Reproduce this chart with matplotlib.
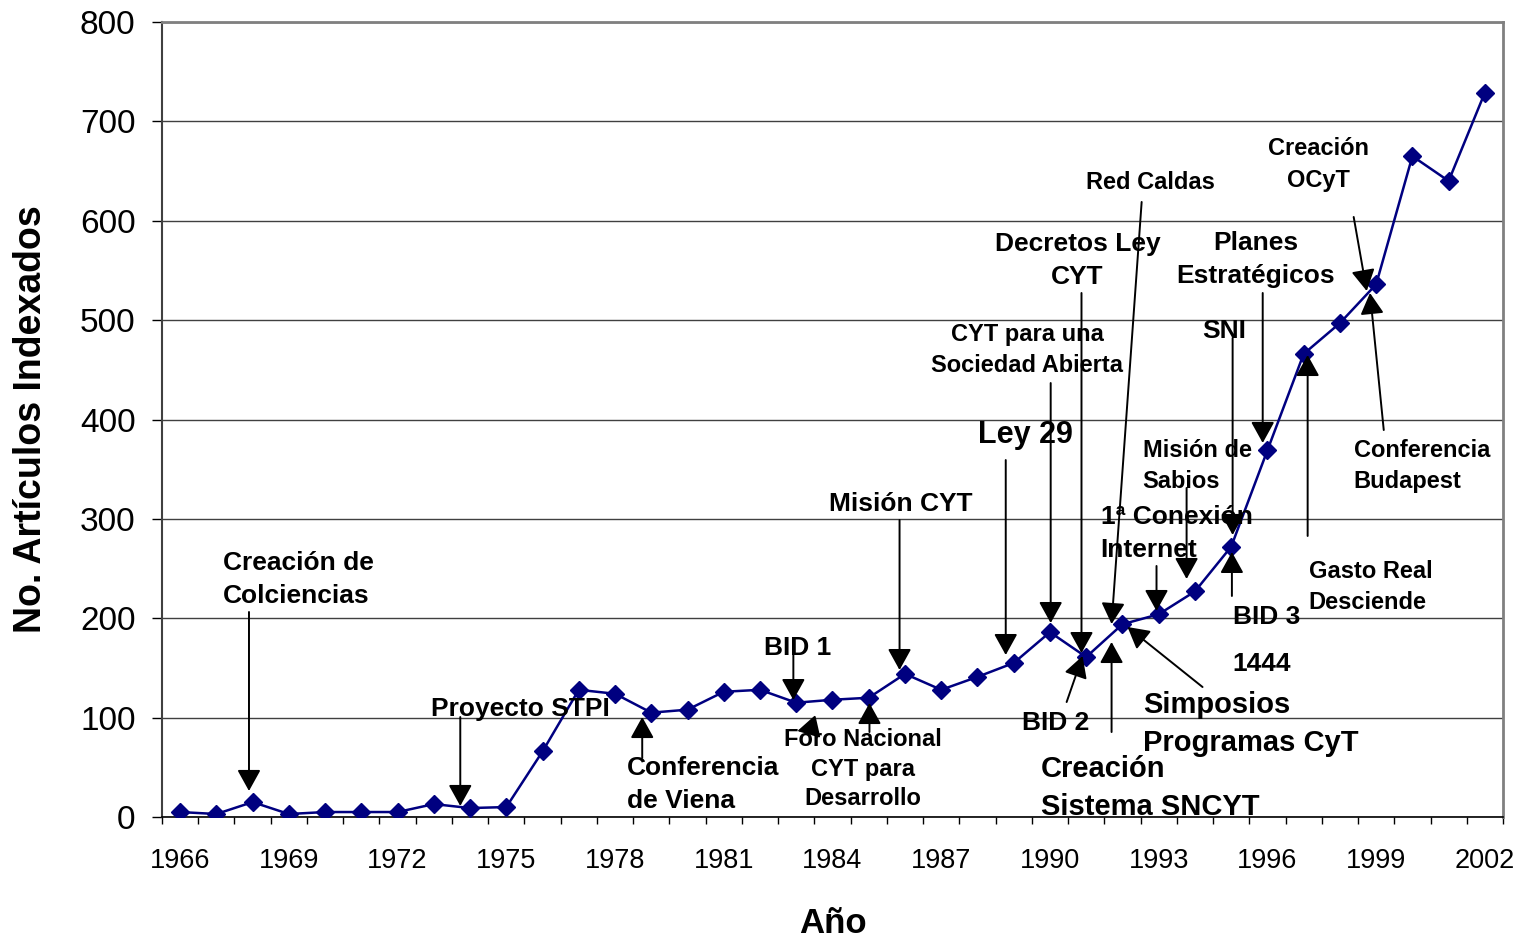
import matplotlib
matplotlib.use("Agg")
import matplotlib.pyplot as plt
from matplotlib.ticker import MultipleLocator

plt.rcParams['font.family'] = ['Liberation Sans', 'DejaVu Sans']

years = list(range(1966, 2003))
articles = [5, 3, 15, 3, 5, 5, 5, 13, 9, 10,
            66, 128, 124, 105, 108, 126, 128, 115, 118, 120,
            144, 128, 141, 155, 186, 161, 194, 204, 227, 272,
            369, 466, 497, 536, 665, 640, 729]
year_labels = list(range(1966, 2003, 3))

# (text, x, y of last-line baseline, ha, fontsize, linespacing)
labels = [
    ("Creación de\nColciencias", 1967.19, 215.3, "left", 19, 1.46),
    ("Proyecto STPI", 1972.93, 101.6, "left", 19, 1.46),
    ("Conferencia\nde Viena", 1978.34, 9.1, "left", 19, 1.46),
    ("BID 1", 1982.12, 163.0, "left", 19, 1.46),
    ("Foro Nacional\nCYT para\nDesarrollo", 1984.83, 12.1, "center", 17, 1.35),
    ("Misión CYT", 1985.88, 307.9, "center", 19, 1.46),
    ("Ley 29", 1989.33, 376.4, "center", 22, 1.46),
    ("CYT para una\nSociedad Abierta", 1989.38, 447.8, "center", 17, 1.42),
    ("Decretos Ley\nCYT", 1990.76, 536.4, "center", 19, 1.46),
    ("Red Caldas", 1992.78, 631.9, "center", 17, 1.46),
    ("BID 2", 1989.22, 87.5, "left", 19, 1.46),
    ("Creación\nSistema SNCYT", 1989.74, 2.0, "left", 21, 1.46),
    ("Simposios\nProgramas CyT", 1992.56, 66.4, "left", 21, 1.46),
    ("1ª Conexión\nInternet", 1991.40, 261.6, "left", 19, 1.46),
    ("Misión de\nSabios", 1992.56, 331.1, "left", 17, 1.46),
    ("SNI", 1994.82, 482.0, "center", 19, 1.46),
    ("BID 3", 1995.04, 194.2, "left", 19, 1.46),
    ("1444", 1995.04, 146.9, "left", 19, 1.46),
    ("Planes\nEstratégicos", 1995.68, 537.4, "center", 19, 1.46),
    ("Gasto Real\nDesciende", 1997.14, 209.3, "left", 17, 1.46),
    ("Creación\nOCyT", 1997.42, 634.2, "center", 17, 1.46),
    ("Conferencia\nBudapest", 1998.38, 331.1, "left", 17, 1.46),
]

# arrows: (tail x, tail y, tip x, tip y)
arrows = [
    (1967.90, 206.3, 1967.90, 26.2),
    (1973.73, 100.6, 1973.73, 11.1),
    (1978.75, 59.4, 1978.75, 100.6),
    (1982.92, 170.1, 1982.92, 117.7),
    (1985.02, 85.5, 1985.02, 114.7),
    (1983.53, 90.6, 1983.03, 86.5),
    (1985.85, 298.9, 1985.85, 147.9),
    (1988.78, 359.2, 1988.78, 163.0),
    (1990.02, 436.7, 1990.02, 195.2),
    (1990.87, 527.3, 1990.87, 165.0),
    (1992.53, 618.9, 1991.70, 194.2),
    (1990.46, 115.7, 1990.90, 162.0),
    (1991.70, 85.5, 1991.70, 176.1),
    (1994.21, 130.8, 1992.14, 191.2),
    (1992.94, 252.6, 1992.94, 207.3),
    (1993.77, 331.1, 1993.77, 239.5),
    (1995.04, 482.0, 1995.04, 283.8),
    (1995.02, 222.4, 1995.02, 266.7),
    (1995.87, 527.3, 1995.87, 376.4),
    (1997.11, 282.8, 1997.11, 464.9),
    (1998.38, 603.8, 1998.74, 529.3),
    (1999.21, 389.4, 1998.83, 527.3),
]

fig = plt.figure(figsize=(15.21, 9.42), dpi=100)
ax = fig.add_axes([162 / 1521, 125 / 942, 1341 / 1521, 795 / 942])

ax.plot(years, articles, color="#000080", lw=1.8, marker="D", ms=9,
        markerfacecolor="#000080", markeredgecolor="#000080", zorder=3)

ax.set_xlim(1965.5, 2002.5)
ax.set_ylim(0, 800)
ax.yaxis.set_major_locator(MultipleLocator(100))
ax.grid(axis="y", color="#404040", lw=1.0, zorder=0)
ax.set_axisbelow(True)

ax.set_xticks(year_labels)
ax.set_xticklabels([str(y) for y in year_labels], fontsize=19.5)
ax.set_xticks([y - 0.5 for y in years] + [2002.5], minor=True)
ax.tick_params(axis="x", which="major", length=0, pad=22)
ax.tick_params(axis="x", which="minor", length=5, width=1, direction="out")
ax.tick_params(axis="y", length=7, width=1, direction="out", labelsize=24, pad=12)

for s in ["top", "right"]:
    ax.spines[s].set_color("#808080")
    ax.spines[s].set_linewidth(2)
ax.spines["left"].set_color("#404040")
ax.spines["left"].set_linewidth(1.5)
ax.spines["bottom"].set_color("black")
ax.spines["bottom"].set_linewidth(1.2)

ax.set_xlabel("Año", fontsize=25, fontweight="bold", labelpad=24)
ax.set_ylabel("No. Artículos Indexados", fontsize=27, fontweight="bold", labelpad=22)

for txt, x, y, ha, fs, ls in labels:
    ax.text(x, y, txt, ha=ha, va="baseline", multialignment=ha,
            fontsize=fs, fontweight="bold", linespacing=ls, zorder=5)

for x0, y0, x1, y1 in arrows:
    ax.annotate("", xy=(x1, y1), xytext=(x0, y0),
                arrowprops=dict(arrowstyle="-|>,head_length=0.65,head_width=0.36",
                                mutation_scale=20, color="black", lw=1.4,
                                shrinkA=0, shrinkB=0),
                zorder=4)

fig.savefig("out.png", dpi=100)
